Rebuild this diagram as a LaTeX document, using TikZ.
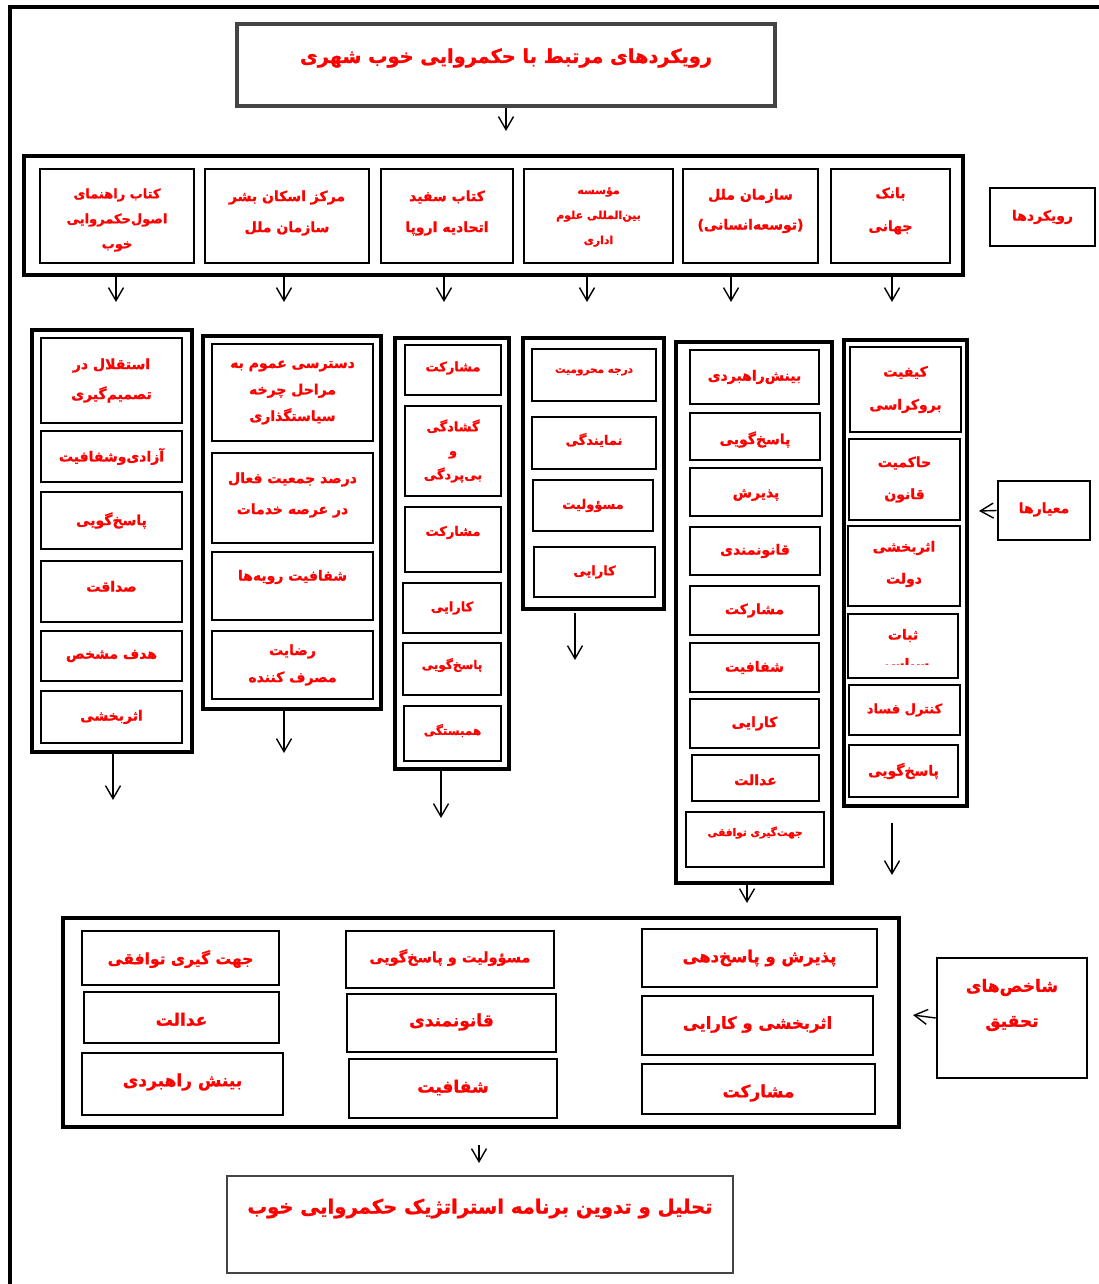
\documentclass[tikz,border=0pt]{standalone}
\usepackage{fontspec}
\usetikzlibrary{arrows.meta}
\TeXXeTstate=1
\newfontfamily\arabicfont[Script=Arabic, BoldFeatures={FakeBold=1.2}]{DejaVu Sans}
\definecolor{tred}{RGB}{255,0,0}
\definecolor{dgray}{RGB}{68,68,68}
\newcommand\fa[1]{\beginR #1\endR}
% box + text: #1 box style, #2 name, #3 x1, #4 y1, #5 x2, #6 y2, #7 text style, #8 dy, #9 text
\newcommand\mybox[9]{%
  \pgfmathsetmacro\bw{#5-#3}\pgfmathsetmacro\bh{#6-#4}%
  \node[#1, minimum width=\bw pt, minimum height=\bh pt] (#2) at ({(#3+#5)/2},{(#4+#6)/2}) {};%
  \node[txt,#7] (#2t) at ([yshift=#8pt]#2.center) {#9};}
% plain box: #1 style, #2 name, #3..#6 corners
\newcommand\pbox[6]{%
  \pgfmathsetmacro\bw{#5-#3}\pgfmathsetmacro\bh{#6-#4}%
  \node[#1, minimum width=\bw pt, minimum height=\bh pt] (#2) at ({(#3+#5)/2},{(#4+#6)/2}) {};}
\begin{document}
\begin{tikzpicture}[x=1pt,y=-1pt,
  frame/.style={line width=3.5pt},
  grp/.style={draw, line width=4pt, inner sep=0pt},
  bx/.style={draw, line width=2.6pt, inner sep=0pt},
  titlebox/.style={draw=dgray, line width=3.5pt, inner sep=0pt},
  finalbox/.style={draw=dgray, line width=1.3pt, inner sep=0pt},
  txt/.style={text=tred, font=\arabicfont\bfseries\fontsize{14}{30}\selectfont, align=center, inner sep=0pt},
  sz/.style 2 args={font=\arabicfont\bfseries\fontsize{#1}{#2}\selectfont},
  arr/.style={line width=1.4pt, -{Straight Barb[length=13pt,width=15pt,line width=1.4pt]}}
]
\useasboundingbox (0,0) rectangle (1099,1284);
% outer frame
\draw[frame] (10,1284) -- (10,7) -- (1099,7);

% title
\mybox{titlebox}{title}{237}{24}{775}{106}{sz={19.3}{30}}{7}{\fa{رویکردهای مرتبط با حکمروایی خوب شهری}}
\coordinate (t1) at (506,131);
\draw[arr] (title.south) -- (t1);

% approaches
\pbox{grp}{grpA}{24}{156}{963}{275}
\mybox{bx}{a1}{40}{169}{194}{263}{sz={13}{25}}{-4}{\fa{کتاب راهنمای}\\\fa{اصول^^^^200cحکمروایی}\\\fa{خوب}}
\mybox{bx}{a2}{205}{169}{369}{263}{sz={14}{31}}{3}{\fa{مرکز اسکان بشر}\\\fa{سازمان ملل}}
\mybox{bx}{a3}{381}{169}{513}{263}{sz={14}{31}}{3}{\fa{کتاب سفید}\\\fa{اتحادیه اروپا}}
\mybox{bx}{a4}{524}{169}{673}{263}{sz={11}{25}}{-1}{\fa{مؤسسه}\\\fa{بین^^^^200cالمللی علوم}\\\fa{اداری}}
\mybox{bx}{a5}{683}{169}{818}{263}{sz={14}{30}}{5}{\fa{سازمان ملل}\\\fa{(توسعه^^^^200cانسانی)}}
\mybox{bx}{a6}{831}{169}{950}{263}{sz={14}{33}}{5}{\fa{بانک}\\\fa{جهانی}}
\mybox{bx}{lblA}{990}{188}{1095}{246}{sz={14}{30}}{0}{\fa{رویکردها}}

\coordinate (c1) at (116,302);
\coordinate (c2) at (284,302);
\coordinate (c3) at (444,302);
\coordinate (c4) at (587,302);
\coordinate (c5) at (731,302);
\coordinate (c6) at (892,302);
\foreach \c in {c1,c2,c3,c4,c5,c6} \draw[arr] (grpA.south -| \c) -- (\c);

% column A
\pbox{grp}{colA}{32}{330}{192}{752}
\mybox{bx}{A1}{41}{338}{182}{423}{sz={14}{30}}{0}{\fa{استقلال در}\\\fa{تصمیم^^^^200cگیری}}
\mybox{bx}{A2}{41}{431}{182}{482}{}{0}{\fa{آزادی^^^^200cوشفافیت}}
\mybox{bx}{A3}{41}{492}{182}{549}{}{0}{\fa{پاسخ^^^^200cگویی}}
\mybox{bx}{A4}{41}{561}{182}{622}{}{5}{\fa{صداقت}}
\mybox{bx}{A5}{41}{631}{182}{681}{}{0}{\fa{هدف مشخص}}
\mybox{bx}{A6}{41}{691}{182}{743}{}{0}{\fa{اثربخشی}}
\coordinate (dA) at (113,800);
\draw[arr] (colA.south -| dA) -- (dA);

% column B
\pbox{grp}{colB}{203}{336}{381}{709}
\mybox{bx}{B1}{212}{344}{373}{441}{sz={14}{26.5}}{0}{\fa{دسترسی عموم به}\\\fa{مراحل چرخه}\\\fa{سیاستگذاری}}
\mybox{bx}{B2}{212}{453}{373}{543}{sz={14}{31}}{3}{\fa{درصد جمعیت فعال}\\\fa{در عرصه خدمات}}
\mybox{bx}{B3}{212}{552}{373}{620}{}{9}{\fa{شفافیت رویه^^^^200cها}}
\mybox{bx}{B4}{212}{631}{373}{699}{sz={14}{27}}{0}{\fa{رضایت}\\\fa{مصرف کننده}}
\coordinate (dB) at (284,753);
\draw[arr] (colB.south -| dB) -- (dB);

% column C
\pbox{grp}{colC}{395}{338}{509}{769}
\mybox{bx}{C1}{405}{345}{501}{395}{sz={13}{30}}{2}{\fa{مشارکت}}
\mybox{bx}{C2}{405}{406}{501}{496}{sz={13}{24}}{0}{\fa{گشادگی}\\\fa{و}\\\fa{بی^^^^200cپردگی}}
\mybox{bx}{C3}{405}{507}{501}{572}{sz={13}{30}}{7}{\fa{مشارکت}}
\mybox{bx}{C4}{403}{583}{501}{633}{sz={13}{30}}{0}{\fa{کارایی}}
\mybox{bx}{C5}{403}{643}{501}{695}{sz={12}{30}}{4}{\fa{پاسخ^^^^200cگویی}}
\mybox{bx}{C6}{404}{706}{501}{761}{sz={12}{30}}{3}{\fa{همبستگی}}
\coordinate (dC) at (441,818);
\draw[arr] (colC.south -| dC) -- (dC);

% column D
\pbox{grp}{colD}{523}{338}{664}{609}
\mybox{bx}{D1}{532}{349}{656}{401}{sz={10.5}{30}}{3}{\fa{درجه محرومیت}}
\mybox{bx}{D2}{532}{417}{656}{469}{sz={13}{30}}{3}{\fa{نمایندگی}}
\mybox{bx}{D3}{533}{480}{653}{531}{sz={13}{30}}{0}{\fa{مسؤولیت}}
\mybox{bx}{D4}{534}{547}{655}{597}{sz={13}{30}}{0}{\fa{کارایی}}
\coordinate (sD) at (575,613);
\coordinate (dD) at (575,660);
\draw[arr] (sD) -- (dD);

% column E
\pbox{grp}{colE}{676}{342}{832}{883}
\mybox{bx}{E1}{690}{350}{819}{404}{}{0}{\fa{بینش^^^^200cراهبردی}}
\mybox{bx}{E2}{690}{413}{820}{460}{}{-3}{\fa{پاسخ^^^^200cگویی}}
\mybox{bx}{E3}{690}{468}{822}{516}{}{-3}{\fa{پذیرش}}
\mybox{bx}{E4}{690}{527}{820}{575}{}{0}{\fa{قانونمندی}}
\mybox{bx}{E5}{690}{586}{819}{635}{}{0}{\fa{مشارکت}}
\mybox{bx}{E6}{690}{643}{819}{692}{}{0}{\fa{شفافیت}}
\mybox{bx}{E7}{690}{699}{819}{748}{}{0}{\fa{کارایی}}
\mybox{bx}{E8}{692}{755}{819}{801}{}{-2}{\fa{عدالت}}
\mybox{bx}{E9}{686}{812}{824}{867}{sz={10.5}{30}}{7}{\fa{جهت^^^^200cگیری توافقی}}
\coordinate (dE) at (747,903);
\draw[arr] (colE.south -| dE) -- (dE);

% column F
\pbox{grp}{colF}{844}{340}{967}{806}
\mybox{bx}{F1}{850}{347}{961}{432}{sz={14}{33}}{0}{\fa{کیفیت}\\\fa{بروکراسی}}
\mybox{bx}{F2}{849}{439}{960}{520}{sz={14}{32}}{0}{\fa{حاکمیت}\\\fa{قانون}}
\mybox{bx}{F3}{848}{526}{960}{606}{sz={14}{32}}{2}{\fa{اثربخشی}\\\fa{دولت}}
\pbox{bx}{F4}{848}{614}{958}{678}
\begin{scope}
  \clip (851,600) rectangle (955,664);
  \node[txt, sz={14}{29}] (F4t) at (903,650) {\fa{ثبات}\\\fa{سیاسی}};
\end{scope}
\mybox{bx}{F5}{849}{685}{960}{735}{sz={13}{30}}{0}{\fa{کنترل فساد}}
\mybox{bx}{F6}{849}{745}{958}{797}{}{0}{\fa{پاسخ^^^^200cگویی}}
\coordinate (sF) at (892,823);
\coordinate (dF) at (892,875);
\draw[arr] (sF) -- (dF);

% criteria label
\mybox{bx}{lblM}{998}{481}{1090}{540}{}{1}{\fa{معیارها}}
\coordinate (mA) at (979,511);
\draw[arr] (lblM.west) -- (mA);

% indicators
\pbox{grp}{grpI}{63}{918}{899}{1127}
\mybox{bx}{L1}{82}{931}{279}{985}{sz={15.5}{30}}{-1}{\fa{جهت گیری توافقی}}
\mybox{bx}{L2}{84}{992}{279}{1043}{sz={17}{30}}{-2}{\fa{عدالت}}
\mybox{bx}{L3}{82}{1053}{283}{1115}{sz={17}{30}}{2}{\fa{بینش راهبردی}}
\mybox{bx}{M1}{346}{931}{554}{988}{sz={14.5}{30}}{2}{\fa{مسؤولیت و پاسخ^^^^200cگویی}}
\mybox{bx}{M2}{347}{994}{556}{1052}{sz={17}{30}}{1}{\fa{قانونمندی}}
\mybox{bx}{M3}{349}{1059}{557}{1118}{sz={17}{30}}{1}{\fa{شفافیت}}
\mybox{bx}{R1}{642}{929}{877}{987}{sz={16.5}{30}}{0}{\fa{پذیرش و پاسخ^^^^200cدهی}}
\mybox{bx}{R2}{642}{996}{873}{1055}{sz={16.5}{30}}{1}{\fa{اثربخشی و کارایی}}
\mybox{bx}{R3}{642}{1064}{875}{1114}{sz={17}{30}}{-4}{\fa{مشارکت}}
\mybox{bx}{lblI}{937}{958}{1087}{1078}{sz={17}{35}}{13}{\fa{شاخص^^^^200cهای}\\\fa{تحقیق}}
\coordinate (iA) at (913,1015);
\draw[arr] (lblI.west) -- (iA);

% final
\coordinate (sI) at (479,1145);
\coordinate (dI) at (479,1163);
\draw[arr] (sI) -- (dI);
\mybox{finalbox}{final}{227}{1176}{733}{1273}{sz={19.6}{30}}{16}{\fa{تحلیل و تدوین برنامه استراتژیک حکمروایی خوب}}
\end{tikzpicture}
\end{document}
